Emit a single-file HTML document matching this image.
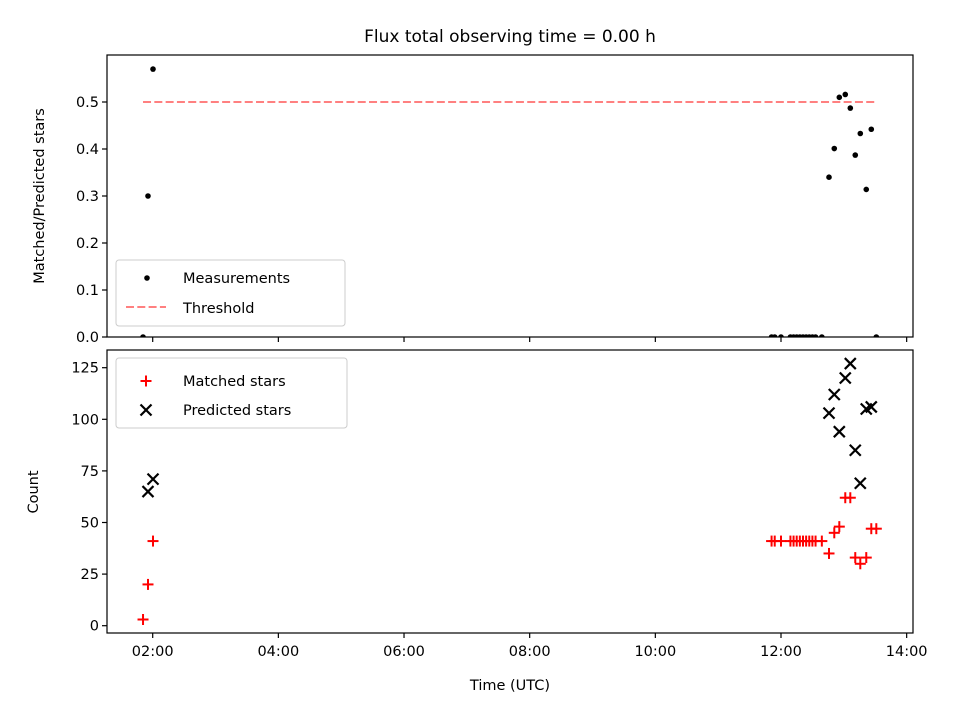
<!DOCTYPE html>
<html><head><meta charset="utf-8"><style>body{margin:0;background:#fff}svg{font-family:"DejaVu Sans","Liberation Sans",sans-serif}</style></head>
<body>
<svg id="c" width="960" height="720" xmlns="http://www.w3.org/2000/svg"></svg>
<script>
const xTicks=[2,4,6,8,10,12,14];
const xTickLabels=["02:00","04:00","06:00","08:00","10:00","12:00","14:00"];
const ratioTicks=[0,0.1,0.2,0.3,0.4,0.5];
const countTicks=[0,25,50,75,100,125];
const measTimes=[1.846,1.925,2.005,11.85,11.9,12.0,12.15,12.2,12.25,12.3,12.35,12.4,12.45,12.5,12.55,12.65,12.764,12.848,12.928,13.023,13.103,13.182,13.262,13.357,13.437,13.517];
const measRatio=[0,0.30,0.57,0,0,0,0,0,0,0,0,0,0,0,0,0,0.34,0.401,0.51,0.516,0.487,0.387,0.433,0.314,0.442,0];
const matchedTimes=[1.846,1.925,2.005,11.85,11.9,12.0,12.15,12.2,12.25,12.3,12.35,12.4,12.45,12.5,12.55,12.65,12.764,12.848,12.928,13.023,13.103,13.182,13.262,13.357,13.437,13.517];
const matchedCount=[3,20,41,41,41,41,41,41,41,41,41,41,41,41,41,41,35,45,48,62,62,33,30,33,47,47];
const predTimes=[1.925,2.005,12.764,12.848,12.928,13.023,13.103,13.182,13.262,13.357,13.437];
const predCount=[65,71,103,112,94,120,127,85,69,105,106];
const threshold=[0.5];
const thrRange=[1.846,13.517];

const L=107,R=913,T1=55,B1=337,T2=350,B2=633;
const xs=t=>152.7+(t-2)*62.83;
const y1=v=>337-v*470;
const y2=v=>625.7-v*2.064;
const svg=document.getElementById('c');
const NS="http://www.w3.org/2000/svg";
function mk(tag,attrs,name,parent){const e=document.createElementNS(NS,tag);for(const k in attrs)e.setAttribute(k,attrs[k]);


(parent||svg).appendChild(e);return e;}
function txt(x,y,s,size,anchor,name,rot){const e=mk('text',{x:x,y:y,'font-size':size,'text-anchor':anchor,fill:'#000'},name);if(rot)e.setAttribute('transform',`rotate(-90 ${x} ${y})`);e.textContent=s;return e;}

txt(510,42,"Flux total observing time = 0.00 h",17,'middle','chart-title');
mk('line',{x1:xs(thrRange[0]),x2:xs(thrRange[1]),y1:y1(threshold[0]),y2:y1(threshold[0]),stroke:'#ff8080','stroke-width':2,'stroke-dasharray':'8,3.3'},'threshold-line');
measTimes.forEach((t,i)=>{mk('circle',{cx:xs(t),cy:y1(measRatio[i]),r:2.8,fill:'#000'},'measurement-point');});
function plus(x,y,name){const g=mk('g',{stroke:'#f00','stroke-width':2},name);mk('line',{x1:x-5.5,x2:x+5.5,y1:y,y2:y},'plus-h',g);mk('line',{x1:x,x2:x,y1:y-5.5,y2:y+5.5},'plus-v',g);}
function cross(x,y,name){const g=mk('g',{stroke:'#000','stroke-width':2.2},name);mk('line',{x1:x-5.5,x2:x+5.5,y1:y-5.5,y2:y+5.5},'x-a',g);mk('line',{x1:x-5.5,x2:x+5.5,y1:y+5.5,y2:y-5.5},'x-b',g);}
matchedTimes.forEach((t,i)=>plus(xs(t),y2(matchedCount[i]),'matched-point'));
predTimes.forEach((t,i)=>cross(xs(t),y2(predCount[i]),'predicted-point'));
mk('rect',{x:L,y:B1+0.5,width:R-L,height:T2-B1-1,fill:'#fff'},'gap-cover');
mk('rect',{x:L,y:T1,width:R-L,height:B1-T1,fill:'none',stroke:'#000','stroke-width':1.2},'top-axes-frame');
mk('rect',{x:L,y:T2,width:R-L,height:B2-T2,fill:'none',stroke:'#000','stroke-width':1.2},'bottom-axes-frame');
xTicks.forEach((t,i)=>{const x=xs(t);
mk('line',{x1:x,x2:x,y1:B1,y2:B1+5,stroke:'#000','stroke-width':1.2},'top-x-tick');
mk('line',{x1:x,x2:x,y1:B2,y2:B2+5,stroke:'#000','stroke-width':1.2},'bottom-x-tick');
txt(x,B2+23,xTickLabels[i],14.5,'middle','x-tick-label');});
ratioTicks.forEach(v=>{const y=y1(v);mk('line',{x1:L-5,x2:L,y1:y,y2:y,stroke:'#000','stroke-width':1.2},'top-y-tick');txt(L-8,y+5,v.toFixed(1),14.5,'end','top-y-tick-label');});
countTicks.forEach(v=>{const y=y2(v);mk('line',{x1:L-5,x2:L,y1:y,y2:y,stroke:'#000','stroke-width':1.2},'bottom-y-tick');txt(L-8,y+5,String(v),14.5,'end','bottom-y-tick-label');});
txt(510,690,"Time (UTC)",14.5,'middle','x-axis-title');
txt(44,196,"Matched/Predicted stars",14.5,'middle','top-y-axis-title',true);
txt(38,492,"Count",14.5,'middle','bottom-y-axis-title',true);
mk('rect',{x:116,y:260,width:229,height:66,rx:3,fill:'#fff','fill-opacity':0.8,stroke:'#ccc'},'top-legend');
mk('circle',{cx:147,cy:278,r:2.8,fill:'#000'},'legend-measurements-marker');
txt(183,283,"Measurements",14.5,'start','legend-measurements');
mk('line',{x1:126,x2:166,y1:307,y2:307,stroke:'#ff8080','stroke-width':2,'stroke-dasharray':'8,3.3'},'legend-threshold-marker');
txt(183,313,"Threshold",14.5,'start','legend-threshold');
mk('rect',{x:116,y:358,width:231,height:70,rx:3,fill:'#fff','fill-opacity':0.8,stroke:'#ccc'},'bottom-legend');
plus(146,381,'legend-matched-marker');
txt(183,386,"Matched stars",14.5,'start','legend-matched');
cross(146,410,'legend-predicted-marker');
txt(183,415,"Predicted stars",14.5,'start','legend-predicted');
</script>
</body></html>
